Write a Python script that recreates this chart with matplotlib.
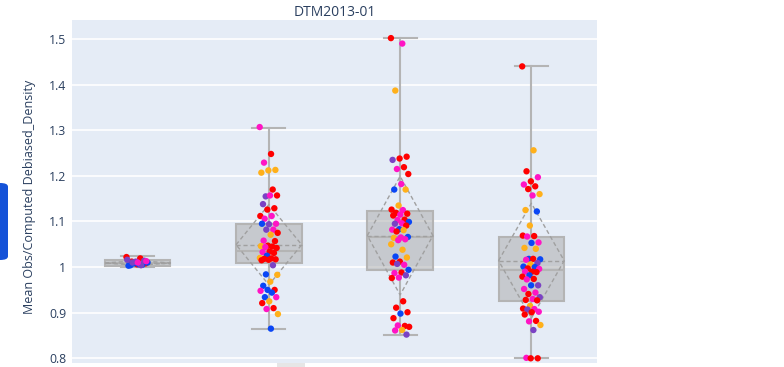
import matplotlib
matplotlib.use("Agg")
import matplotlib.pyplot as plt
from matplotlib.patches import FancyBboxPatch, Rectangle
import numpy as np

plt.rcParams['font.family'] = ['Open Sans', 'DejaVu Sans']

# ---------------- data ----------------
title = "DTM2013-01"
ylabel = "Mean Obs/Computed Debiased_Density"
yticks = [0.8, 0.9, 1.0, 1.1, 1.2, 1.3, 1.4, 1.5]
yticklabels = ["0.8", "0.9", "1", "1.1", "1.2", "1.3", "1.4", "1.5"]

# box statistics
q1 = [1.0013, 1.010, 0.993, 0.925]
med = [1.008, 1.036, 1.067, 0.993]
q3 = [1.0145, 1.095, 1.122, 1.067]
whislo = [1.001, 0.865, 0.852, 0.800]
whishi = [1.0245, 1.306, 1.503, 1.440]
means = [1.009, 1.049, 1.069, 1.014]
sds = [0.005, 0.088, 0.130, 0.126]

# points per box: values and colour codes (r red, m magenta, o orange, b blue, p purple)
box1_vals = [1.022, 1.019, 1.012, 1.008, 1.006, 1.003, 1.005, 1.008, 1.010, 1.006,
             1.004, 1.014, 1.012, 1.016, 1.004, 1.010, 1.013, 1.010]
box1_cols = ['r', 'r', 'r', 'r', 'r', 'b', 'b', 'b', 'b', 'b',
             'b', 'p', 'p', 'p', 'p', 'p', 'm', 'm']

box2_vals = [1.307, 1.248, 1.229, 1.213, 1.212, 1.207, 1.170, 1.155, 1.157, 1.157,
             1.138, 1.129, 1.126, 1.112, 1.112, 1.106, 1.095, 1.094, 1.095, 1.082,
             1.082, 1.075, 1.071, 1.058, 1.057, 1.047, 1.046, 1.045, 1.044, 1.042,
             1.034, 1.033, 1.031, 1.025, 1.020, 1.019, 1.018, 1.017, 1.016, 1.015,
             1.004, 0.984, 0.983, 0.968, 0.959, 0.950, 0.950, 0.948, 0.944, 0.934,
             0.934, 0.925, 0.921, 0.910, 0.908, 0.897, 0.865]
box2_cols = ['m', 'r', 'm', 'o', 'o', 'o', 'r', 'p', 'r', 'm',
             'p', 'r', 'r', 'r', 'm', 'm', 'm', 'p', 'b', 'm',
             'p', 'r', 'o', 'm', 'r', 'r', 'o', 'r', 'm', 'r',
             'r', 'm', 'r', 'b', 'o', 'r', 'r', 'r', 'r', 'r',
             'p', 'b', 'o', 'o', 'b', 'r', 'b', 'm', 'b', 'b',
             'm', 'o', 'r', 'r', 'm', 'o', 'b']

box3_vals = [1.502, 1.490, 1.387, 1.242, 1.238, 1.235, 1.219, 1.215, 1.204, 1.182,
             1.170, 1.170, 1.135, 1.126, 1.125, 1.119, 1.117, 1.115, 1.113, 1.104,
             1.103, 1.099, 1.096, 1.095, 1.091, 1.083, 1.082, 1.081, 1.078, 1.066,
             1.065, 1.064, 1.061, 1.059, 1.050, 1.038, 1.023, 1.021, 1.012, 1.010,
             1.005, 1.007, 0.994, 0.988, 0.987, 0.982, 0.977, 0.976, 0.925, 0.911,
             0.901, 0.898, 0.888, 0.871, 0.872, 0.869, 0.862, 0.861, 0.852]
box3_cols = ['r', 'm', 'o', 'r', 'r', 'p', 'r', 'm', 'r', 'm',
             'b', 'o', 'o', 'r', 'm', 'r', 'r', 'm', 'r', 'r',
             'm', 'b', 'm', 'p', 'r', 'b', 'm', 'o', 'r', 'b',
             'm', 'o', 'm', 'm', 'o', 'o', 'b', 'o', 'r', 'r',
             'm', 'p', 'b', 'r', 'm', 'p', 'm', 'r', 'r', 'r',
             'r', 'b', 'r', 'r', 'm', 'r', 'o', 'm', 'p']

box4_vals = [1.440, 1.256, 1.210, 1.197, 1.188, 1.181, 1.177, 1.171, 1.160, 1.157,
             1.125, 1.122, 1.091, 1.069, 1.068, 1.067, 1.054, 1.053, 1.042, 1.040,
             1.018, 1.017, 1.018, 1.016, 1.009, 1.006, 1.001, 1.000, 0.997, 0.996,
             0.990, 0.990, 0.989, 0.982, 0.979, 0.974, 0.973, 0.960, 0.960, 0.952,
             0.944, 0.941, 0.934, 0.930, 0.928, 0.927, 0.915, 0.909, 0.908, 0.907,
             0.902, 0.901, 0.896, 0.882, 0.881, 0.873, 0.862, 0.801, 0.800, 0.800]
box4_cols = ['r', 'o', 'r', 'm', 'r', 'm', 'r', 'r', 'o', 'm',
             'o', 'b', 'o', 'r', 'r', 'm', 'm', 'b', 'o', 'o',
             'b', 'b', 'r', 'm', 'p', 'o', 'b', 'b', 'r', 'm',
             'r', 'm', 'r', 'b', 'r', 'r', 'm', 'p', 'b', 'm',
             'm', 'r', 'p', 'm', 'r', 'r', 'o', 'r', 'm', 'p',
             'm', 'r', 'r', 'r', 'm', 'o', 'p', 'm', 'r', 'r']

point_vals = [box1_vals, box2_vals, box3_vals, box4_vals]
point_cols = [box1_cols, box2_cols, box3_cols, box4_cols]

# ---------------- style ----------------
palette = {'r': '#FF0000', 'm': '#FF14C4', 'o': '#FFB01A', 'b': '#0A46F5', 'p': '#7B42C4'}
bg = '#E5ECF6'
line_gray = '#B4B4B4'
text_col = '#2A3F5F'

W, H = 784, 367
fig = plt.figure(figsize=(W / 100, H / 100), dpi=100)
L, R, T, B = 72, 597, 20, 363
ax = fig.add_axes([L / W, 1 - B / H, (R - L) / W, (B - T) / H])
ax.set_facecolor(bg)
for s in ax.spines.values():
    s.set_visible(False)

positions = list(range(len(q1)))
stats = []
for i in positions:
    stats.append(dict(q1=q1[i], med=med[i], q3=q3[i], whislo=whislo[i], whishi=whishi[i]))

ax.bxp(stats, positions=positions, widths=0.5, capwidths=0.25, patch_artist=True,
       showfliers=False, showmeans=False,
       boxprops=dict(facecolor=(0.66, 0.66, 0.66, 0.5), edgecolor=line_gray, linewidth=1.5),
       whiskerprops=dict(color=line_gray, linewidth=1.5),
       capprops=dict(color=line_gray, linewidth=1.5),
       medianprops=dict(color=line_gray, linewidth=1.5),
       zorder=2)

# mean line and sd diamond
hw = 0.25
for i in positions:
    m, sd = means[i], sds[i]
    ax.plot([i - hw, i + hw], [m, m], ls=(0, (3, 2)), color='#A0A0A0', lw=1.0, zorder=3)
    ax.plot([i - hw, i, i + hw, i, i - hw], [m, m + sd, m, m - sd, m],
            ls=(0, (3, 2)), color='#A0A0A0', lw=1.0, zorder=3)

# jittered points (deterministic jitter offsets)
J = 0.07
for i in positions:
    vals = point_vals[i]
    cols = point_cols[i]
    n = len(vals)
    offs = (((np.arange(n) * 0.6180339887) % 1.0) - 0.5) * 2 * (J if i > 0 else 0.085)
    ax.scatter(i + offs, vals, s=21, c=[palette[c] for c in cols], linewidths=0, zorder=4)

ax.set_xlim(-0.5, 3.5)
ax.set_ylim(0.7897, 1.5417)
ax.set_xticks([])
ax.set_yticks(yticks)
ax.set_yticklabels(yticklabels)
ax.tick_params(axis='y', length=0, pad=4, labelsize=8.8, labelcolor=text_col)
ax.grid(axis='y', color='white', linewidth=1.2)
ax.set_axisbelow(True)

fig.text((L + R) / 2 / W, 1 - 12 / H, title, ha='center', va='center', fontsize=10, color=text_col)
fig.text(30 / W, 1 - 197 / H, ylabel, ha='center', va='center', rotation=90, fontsize=9.0, color=text_col)

# side widget (blue tab) and bottom fragment
fig.patches.append(FancyBboxPatch((-10 / W, 1 - 260 / H), 18 / W, 77 / H, boxstyle="round,pad=0,rounding_size=0.01",
                                  transform=fig.transFigure, facecolor='#1452D8', edgecolor='none'))
fig.patches.append(Rectangle((277 / W, 0), 28 / W, 4 / H, transform=fig.transFigure,
                             facecolor='#E6E6E6', edgecolor='none'))

fig.savefig('out.png', dpi=100)
